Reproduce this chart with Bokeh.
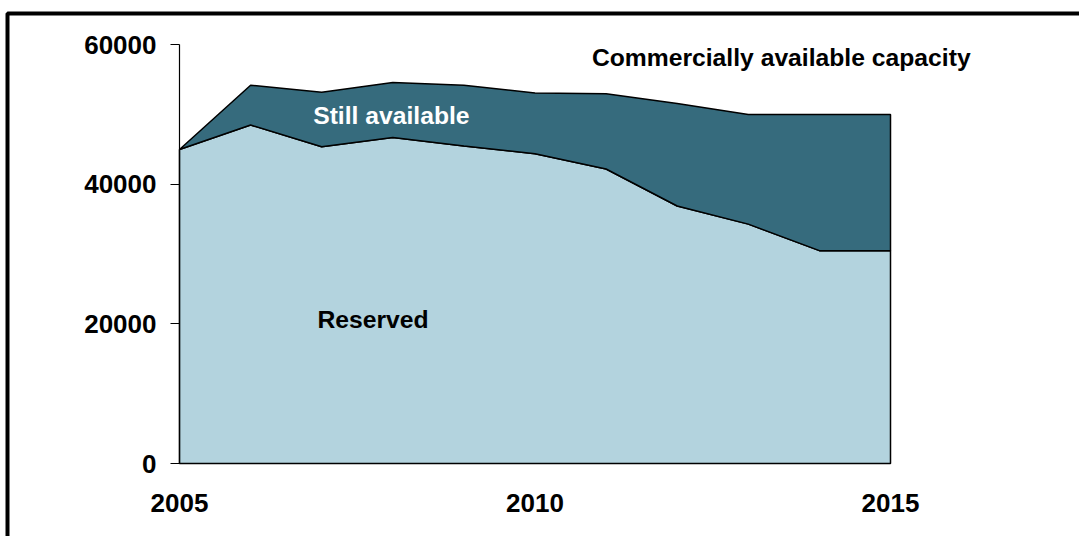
from bokeh.plotting import figure
from bokeh.models import Range1d, FixedTicker, Label, BoxAnnotation, LinearAxis
from bokeh.embed import file_html
from bokeh.resources import INLINE

years = [2005, 2006, 2007, 2008, 2009, 2010, 2011, 2012, 2013, 2014, 2015]
reserved = [45000, 48500, 45400, 46700, 45500, 44400, 42200, 36900, 34300, 30500, 30500]
total = [45000, 54200, 53200, 54600, 54200, 53100, 53000, 51600, 50000, 50000, 50000]
y_ticks = [0, 20000, 40000, 60000]
x_ticks = [2005, 2010, 2015]

FONT = "Liberation Sans"
DARK = "#366B7D"
LIGHT = "#B3D3DE"

W, H = 1079, 536
# pixel placement of the value axes inside the canvas
X0_PX, X1_PX = 179.0, 890.0      # 2005 and 2015
Y0_PX, Y1_PX = 463.0, 44.3       # 0 and 60000 (from top)
ppx = (X1_PX - X0_PX) / (x_ticks[-1] - x_ticks[0])
ppy = (Y0_PX - Y1_PX) / (y_ticks[-1] - y_ticks[0])
x_lo = x_ticks[0] - X0_PX / ppx
x_hi = x_ticks[0] + (W - X0_PX) / ppx
y_lo = -(H - Y0_PX) / ppy
y_hi = Y0_PX / ppy

def xd(px):
    return x_lo + px / ppx

def yd(py):
    return y_hi - py / ppy

p = figure(width=W, height=H, output_backend="svg", toolbar_location=None,
           x_range=Range1d(x_lo, x_hi), y_range=Range1d(y_lo, y_hi),
           x_axis_location=None, y_axis_location=None,
           min_border=0, min_border_left=0, min_border_right=0,
           min_border_top=0, min_border_bottom=0)
p.outline_line_color = None
p.grid.visible = False
p.background_fill_color = "white"
p.border_fill_color = "white"

# reserved area polygon
rx = years + [years[-1], years[0]]
ry = reserved + [0, 0]
p.patch(rx, ry, fill_color=LIGHT, line_color="black", line_width=1.5)

# still available polygon
sx = years + years[::-1]
sy = total + reserved[::-1]
p.patch(sx, sy, fill_color=DARK, line_color="black", line_width=1.5)

yax = LinearAxis(fixed_location=x_ticks[0], bounds=(y_ticks[0], y_ticks[-1]),
                 ticker=FixedTicker(ticks=y_ticks))
yax.minor_tick_line_color = None
yax.major_tick_out = 9
yax.major_tick_in = 0
yax.major_label_standoff = 14
yax.axis_line_color = "black"
yax.axis_line_width = 1.2
yax.major_tick_line_width = 1.2
p.add_layout(yax, "left")

xax = LinearAxis(fixed_location=0, ticker=FixedTicker(ticks=x_ticks))
xax.minor_tick_line_color = None
xax.major_tick_line_color = None
xax.major_tick_out = 0
xax.major_tick_in = 0
xax.axis_line_color = None
xax.major_label_standoff = 30
p.add_layout(xax, "below")

for ax in (xax, yax):
    ax.major_label_text_font = FONT
    ax.major_label_text_font_style = "bold"
    ax.major_label_text_font_size = "26px"
    ax.major_label_text_color = "black"

def lab(x, y, t, color):
    p.add_layout(Label(x=x, y=y, text=t, text_font=FONT, text_font_style="bold",
                       text_font_size="24.7px", text_color=color,
                       text_align="left", text_baseline="alphabetic"))

lab(2010.80, 58150, "Commercially available capacity", "black")
lab(2006.88, 49820, "Still available", "white")
lab(2006.94, 20590, "Reserved", "black")

frame = BoxAnnotation(left=xd(7), right=xd(W + 40), top=yd(13), bottom=yd(H + 40),
                      fill_color=None, fill_alpha=0, line_color="black",
                      line_alpha=1.0, line_width=4)
p.add_layout(frame)

open("out.html", "w").write(file_html(p, INLINE))
